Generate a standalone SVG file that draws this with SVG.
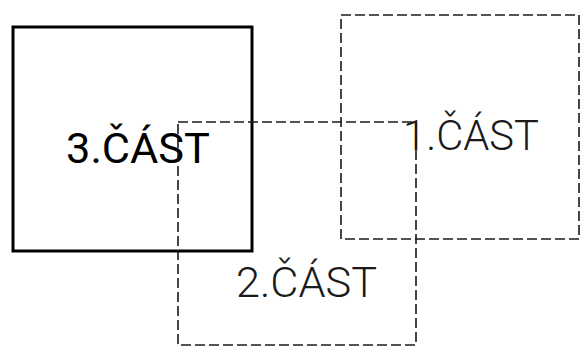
<svg xmlns="http://www.w3.org/2000/svg" width="581" height="352" viewBox="0 0 581 352">
<style>
.dash{fill:none;stroke:#1a1a1a;stroke-width:1.6;stroke-dasharray:10 4}
.solid{fill:none;stroke:#000;stroke-width:3}
.lbl{font-family:"Roboto","Liberation Sans",sans-serif;font-size:42px}
.thin{font-weight:300;fill:#1a1a1a}
.bold{font-weight:400;fill:#000}
</style>
<rect width="581" height="352" fill="#fff"/>
<g id="part3">
<rect class="solid" x="13" y="27" width="239" height="224"/>
<text class="lbl bold" x="66" y="163" textLength="144" lengthAdjust="spacingAndGlyphs">3.ČÁST</text>
</g>
<g id="part1">
<rect class="dash" x="341" y="15" width="238" height="224"/>
<text class="lbl thin" x="403" y="150" textLength="136" lengthAdjust="spacingAndGlyphs">1.ČÁST</text>
</g>
<g id="part2">
<rect class="dash" x="178" y="122" width="238" height="223"/>
<text class="lbl thin" x="236" y="297" textLength="141" lengthAdjust="spacingAndGlyphs">2.ČÁST</text>
</g>
<g id="connectors"/>
</svg>
